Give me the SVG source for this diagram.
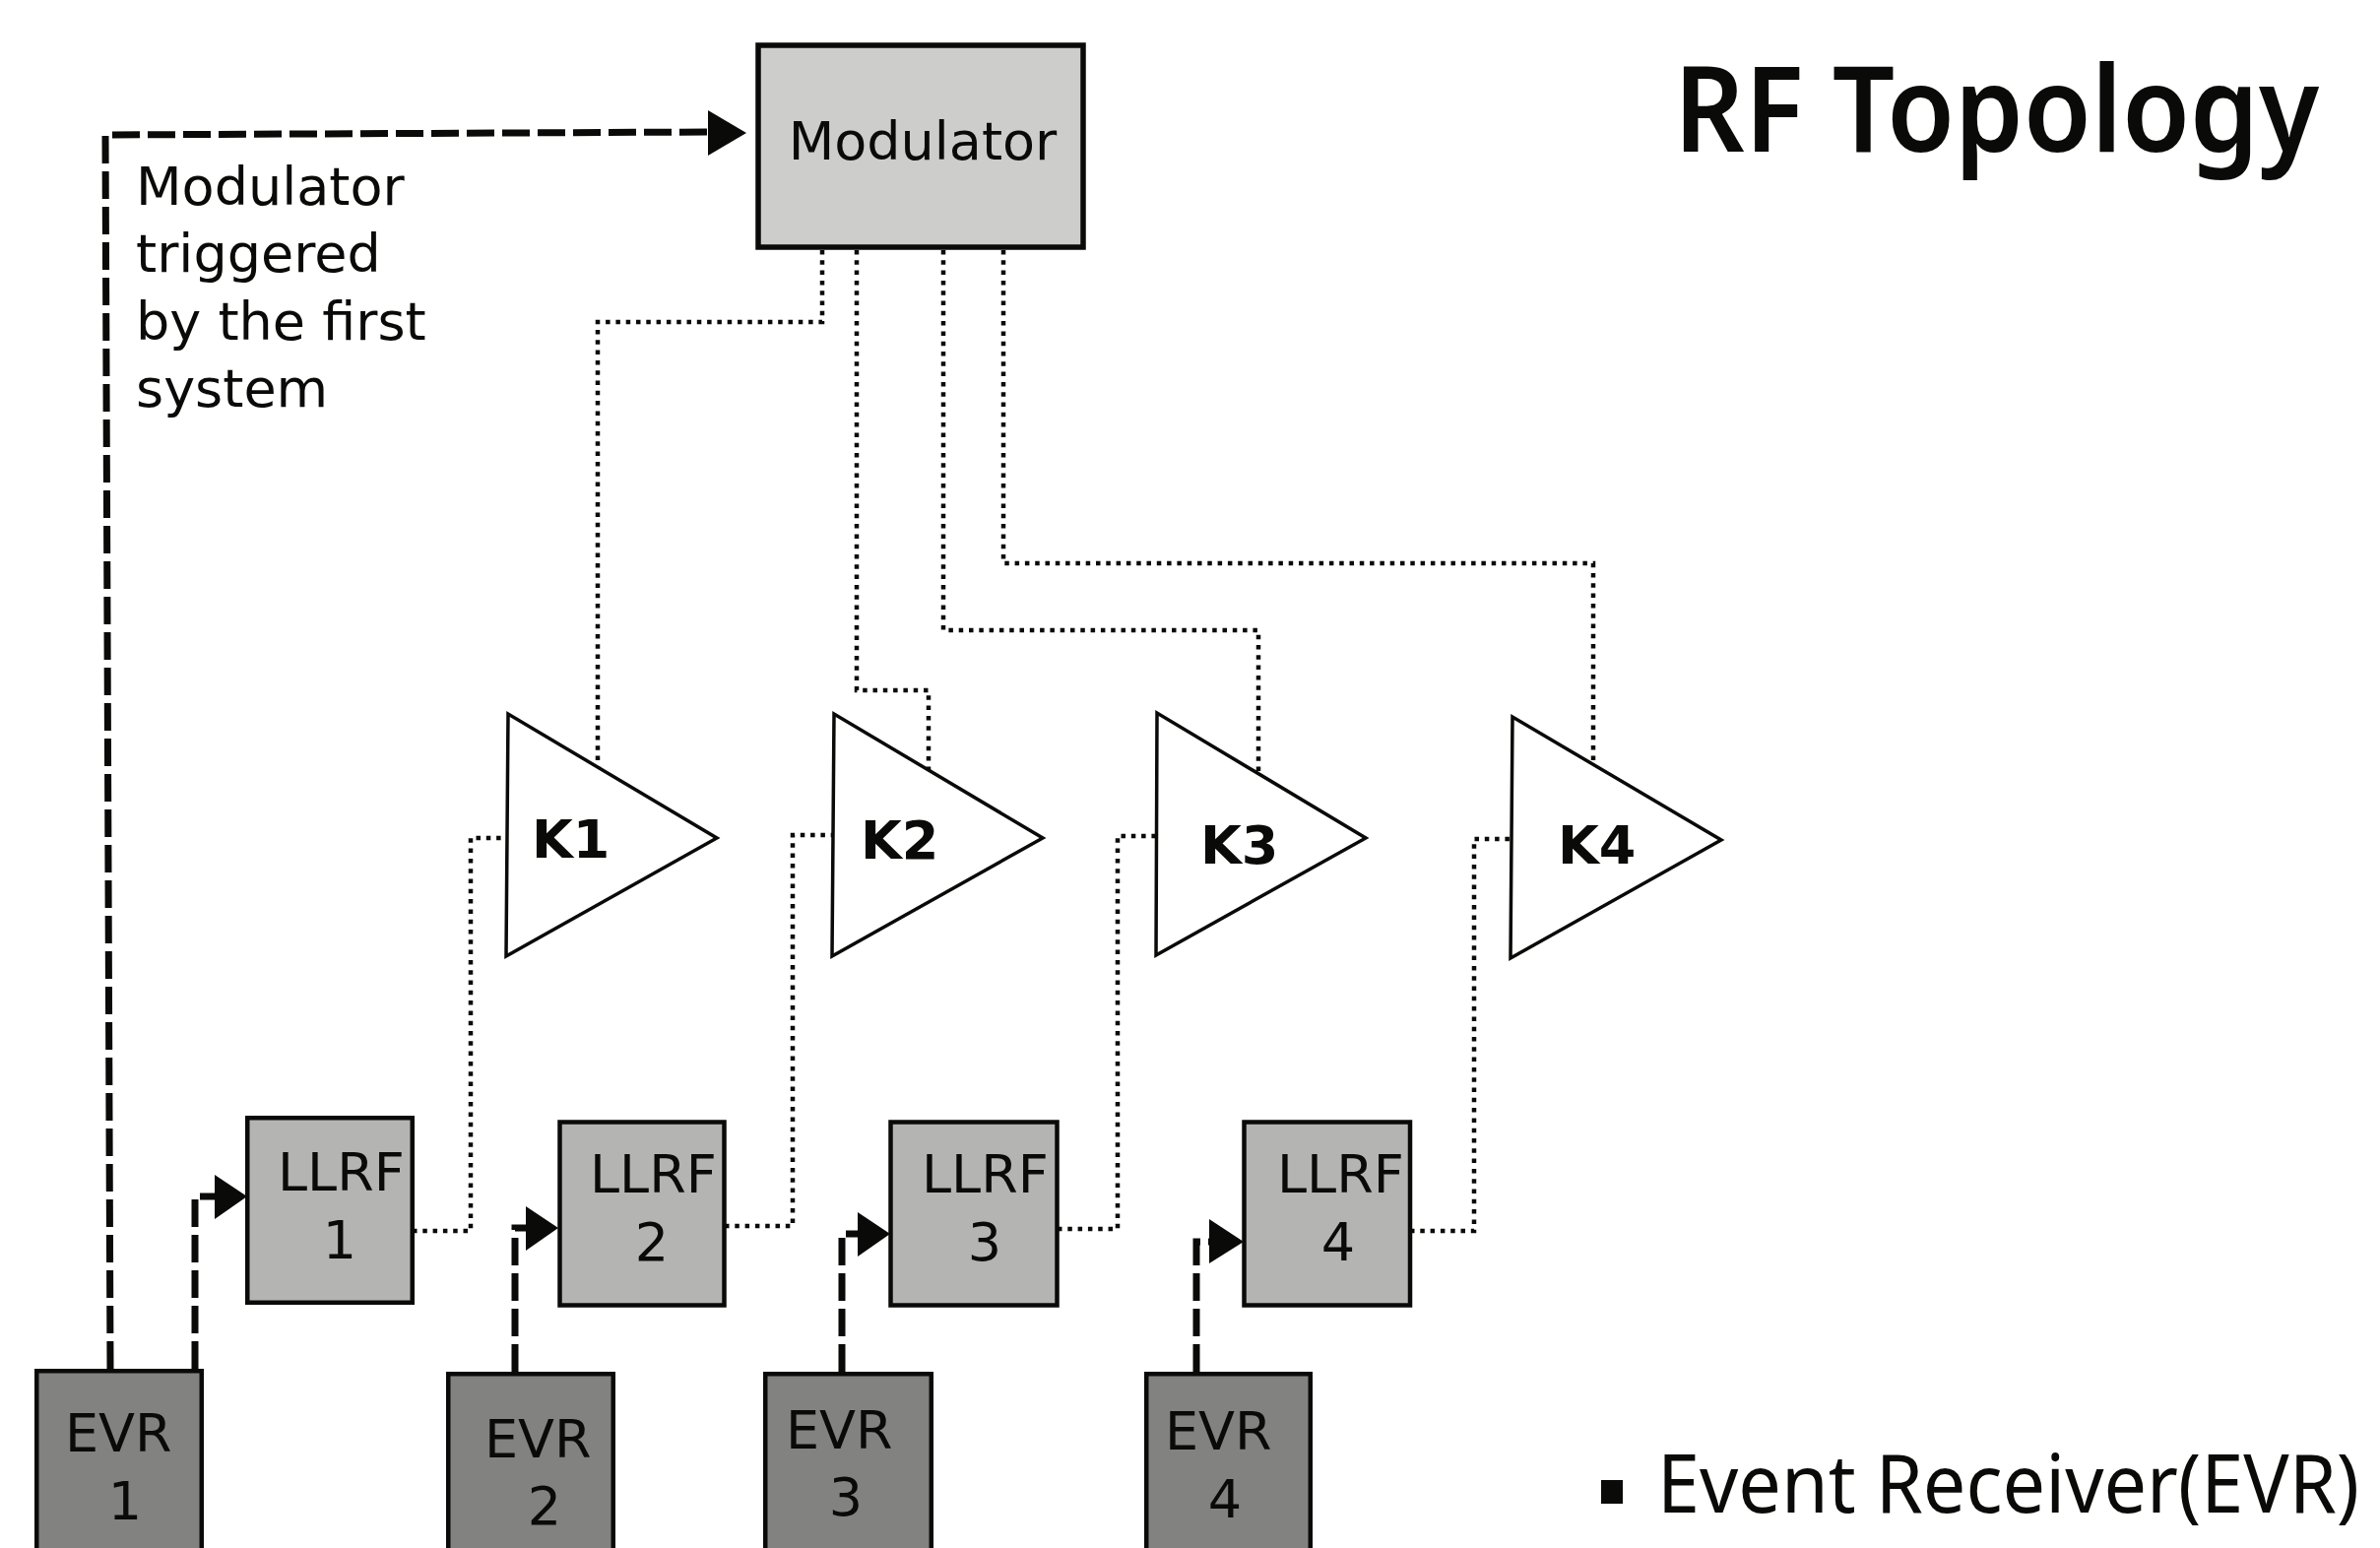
<svg xmlns="http://www.w3.org/2000/svg" width="2417" height="1572" viewBox="0 0 2417 1572">
<style>
.bg{fill:#ffffff}
.box{stroke:#0a0a08;stroke-width:4.5}
.mod{fill:#cdcdcb;stroke:#0a0a08;stroke-width:5.5}
.llrf{fill:#b4b4b2}
.evr{fill:#828280}
.tri{fill:#ffffff;stroke:#0a0a08;stroke-width:3.5;stroke-linejoin:miter}
.lbl{font-family:"DejaVu Sans",sans-serif;font-size:54px;fill:#0a0a08}
.klbl{font-family:"DejaVu Sans",sans-serif;font-size:54px;font-weight:bold;fill:#0a0a08}
.dash{fill:none;stroke:#0a0a08;stroke-width:7;stroke-dasharray:28 8}
.dot{fill:none;stroke:#0a0a08;stroke-width:4.5;stroke-dasharray:4.5 5.8}
.head{fill:#0a0a08}
</style>
<rect class="bg" x="0" y="0" width="2417" height="1572"/>

<g id="connectors">
  <!-- modulator to klystrons (dotted) -->
  <path class="dot" d="M835,254 L835,327 L607,327 L607,779"/>
  <path class="dot" d="M870,254 L870,701 L943,701 L943,782"/>
  <path class="dot" d="M958,254 L958,640 L1278,640 L1278,786"/>
  <path class="dot" d="M1019,254 L1019,572 L1618,572 L1618,776"/>
  <!-- LLRF to klystrons (dotted) -->
  <path class="dot" d="M419,1250 L478,1250 L478,851 L515,851"/>
  <path class="dot" d="M736,1245 L805,1245 L805,848 L846,848"/>
  <path class="dot" d="M1074,1248 L1135,1248 L1135,849 L1174,849"/>
  <path class="dot" d="M1432,1250 L1497,1250 L1497,852 L1535,852"/>
  <!-- EVR1 triggers modulator (dashed) -->
  <path class="dash" d="M112,1390 L107,137 L720,134"/>
  <polygon class="head" points="719,112 758,135 719,158"/>
  <!-- EVR to LLRF (dashed) -->
  <path class="dash" d="M198,1390 L198,1215 L219,1215"/>
  <polygon class="head" points="218,1193 251,1215 218,1238"/>
  <path class="dash" d="M523,1393 L523,1247 L535,1247"/>
  <polygon class="head" points="534,1225 567,1247 534,1270"/>
  <path class="dash" d="M855,1393 L855,1253 L872,1253"/>
  <polygon class="head" points="871,1231 904,1253 871,1276"/>
  <path class="dash" d="M1215,1393 L1215,1261 L1229,1261"/>
  <polygon class="head" points="1228,1238 1263,1261 1228,1283"/>
</g>

<g id="modulator">
  <rect class="mod" x="770" y="46" width="330" height="205"/>
  <text class="lbl" x="937" y="162" text-anchor="middle" font-size="55.5">Modulator</text>
</g>

<g id="note">
  <text class="lbl" font-size="55.5">
    <tspan x="138" y="208">Modulator</tspan>
    <tspan x="138" y="276">triggered</tspan>
    <tspan x="138" y="345">by the first</tspan>
    <tspan x="138" y="413">system</tspan>
  </text>
</g>

<g id="k1">
  <polygon class="tri" points="516,725 514,971 728,851"/>
  <text class="klbl" x="540" y="871">K1</text>
</g>
<g id="k2">
  <polygon class="tri" points="847,725 845,971 1059,851"/>
  <text class="klbl" x="874" y="872">K2</text>
</g>
<g id="k3">
  <polygon class="tri" points="1175,724 1174,970 1387,851"/>
  <text class="klbl" x="1219" y="877">K3</text>
</g>
<g id="k4">
  <polygon class="tri" points="1536,728 1534,973 1748,853"/>
  <text class="klbl" x="1582" y="877">K4</text>
</g>

<g id="llrf1">
  <rect class="box llrf" x="251.25" y="1135.25" width="167.5" height="187.5"/>
  <text class="lbl" x="282" y="1209">LLRF</text>
  <text class="lbl" x="345" y="1278" text-anchor="middle">1</text>
</g>
<g id="llrf2">
  <rect class="box llrf" x="568.5" y="1139.5" width="167" height="186"/>
  <text class="lbl" x="599" y="1211">LLRF</text>
  <text class="lbl" x="662" y="1280" text-anchor="middle">2</text>
</g>
<g id="llrf3">
  <rect class="box llrf" x="904.5" y="1139.5" width="169" height="186"/>
  <text class="lbl" x="936" y="1211">LLRF</text>
  <text class="lbl" x="1000" y="1280" text-anchor="middle">3</text>
</g>
<g id="llrf4">
  <rect class="box llrf" x="1263.5" y="1139.5" width="168.5" height="186"/>
  <text class="lbl" x="1297" y="1211">LLRF</text>
  <text class="lbl" x="1359" y="1280" text-anchor="middle">4</text>
</g>

<g id="evr1">
  <rect class="box evr" x="37.25" y="1392.25" width="167.5" height="200"/>
  <text class="lbl" x="66" y="1474">EVR</text>
  <text class="lbl" x="127" y="1543" text-anchor="middle">1</text>
</g>
<g id="evr2">
  <rect class="box evr" x="455.25" y="1395.25" width="167.5" height="200"/>
  <text class="lbl" x="492" y="1480">EVR</text>
  <text class="lbl" x="553" y="1548" text-anchor="middle">2</text>
</g>
<g id="evr3">
  <rect class="box evr" x="777.25" y="1395.25" width="168.5" height="200"/>
  <text class="lbl" x="798" y="1471">EVR</text>
  <text class="lbl" x="859" y="1539" text-anchor="middle">3</text>
</g>
<g id="evr4">
  <rect class="box evr" x="1164.25" y="1395.25" width="166.5" height="200"/>
  <text class="lbl" x="1183" y="1472">EVR</text>
  <text class="lbl" x="1244" y="1541" text-anchor="middle">4</text>
</g>

<g id="title">
  <text x="1700" y="154" font-family="'Noto Sans','Open Sans',sans-serif" font-size="122" font-weight="600" fill="#0a0a08" textLength="655" lengthAdjust="spacingAndGlyphs">RF Topology</text>
</g>

<g id="legend">
  <rect x="1626" y="1503" width="22" height="24" fill="#0a0a08"/>
  <text x="1683" y="1536" font-family="'Noto Sans','Open Sans',sans-serif" font-size="83" font-weight="400" fill="#0a0a08" textLength="713" lengthAdjust="spacingAndGlyphs">Event Receiver(EVR)</text>
</g>
</svg>
